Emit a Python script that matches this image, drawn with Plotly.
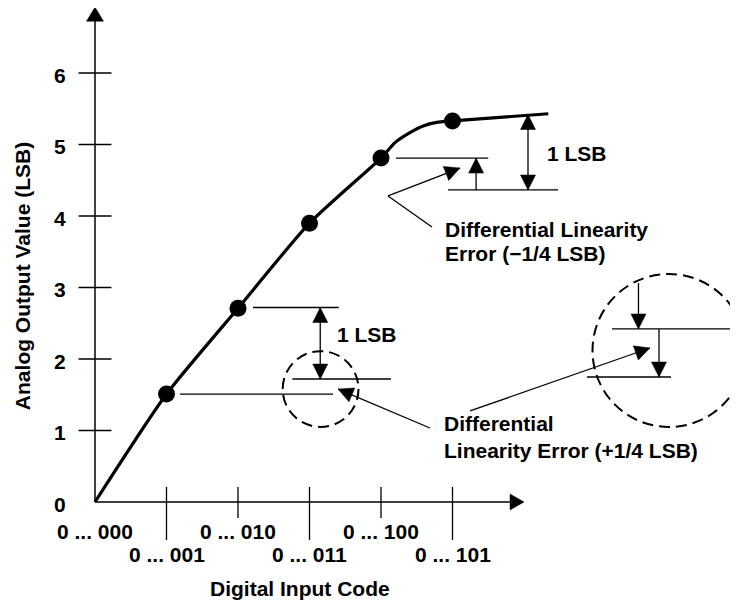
import math
import plotly.graph_objects as go

# ---------------- data ----------------
codes = [0, 1, 2, 3, 4, 5]
code_labels = ["0 ... 000", "0 ... 001", "0 ... 010", "0 ... 011", "0 ... 100", "0 ... 101"]
y_ticks = [0, 1, 2, 3, 4, 5, 6]
sample_x = [1, 2, 3, 4, 5]
sample_y = [1.51, 2.71, 3.90, 4.81, 5.33]
curve_x = [0, 1, 2, 3, 4, 4.2, 4.41, 4.59, 4.78, 5, 6.34]
curve_y = [0, 1.51, 2.71, 3.90, 4.81, 5.03, 5.17, 5.26, 5.31, 5.33, 5.43]

# ---------------- layout constants ----------------
W, H = 730, 596      # page body has an 8px margin
PX = 71.5            # pixels per unit (same on both axes)
X0, Y0 = 87, 494     # pixel of origin inside the figure
XR = [-X0 / PX, (W - X0) / PX]
YR = [(Y0 - H) / PX, Y0 / PX]

FONT = dict(family="Liberation Sans, Arial, sans-serif", size=21, color="black")
INK = "black"

shapes = []
annotations = []


def seg(x0, y0, x1, y1, w=1.3, color=INK):
    shapes.append(dict(type="line", xref="x", yref="y", x0=x0, y0=y0, x1=x1, y1=y1,
                       line=dict(color=color, width=w)))


def head(tip, frm, L=15, Wd=15):
    ux, uy = tip[0] - frm[0], tip[1] - frm[1]
    n = math.hypot(ux, uy)
    ux, uy = ux / n, uy / n
    bx, by = tip[0] - ux * L / PX, tip[1] - uy * L / PX
    px_, py_ = -uy * Wd / 2 / PX, ux * Wd / 2 / PX
    path = "M {} {} L {} {} L {} {} Z".format(tip[0], tip[1], bx + px_, by + py_, bx - px_, by - py_)
    shapes.append(dict(type="path", xref="x", yref="y", path=path,
                       fillcolor=INK, line=dict(color=INK, width=0.5)))


def arrow(frm, tip, w=1.3, both=False):
    seg(frm[0], frm[1], tip[0], tip[1], w)
    head(tip, frm)
    if both:
        head(frm, tip)


def circle(cx, cy, r):
    shapes.append(dict(type="circle", xref="x", yref="y", x0=cx - r, y0=cy - r, x1=cx + r, y1=cy + r,
                       line=dict(color=INK, width=2, dash="11px,6px")))


def text(x, y, s, xanchor="left", yanchor="middle", angle=0):
    annotations.append(dict(x=x, y=y, xref="x", yref="y", text="<b>" + s + "</b>", showarrow=False,
                            xanchor=xanchor, yanchor=yanchor, textangle=angle, font=FONT))


# ---------------- axes ----------------
seg(0, 0, 6.0 - 12 / PX, 0, 1.5)
head((6.0, 0), (0, 0), L=14, Wd=16)
seg(0, 0, 0, 6.92 - 12 / PX, 1.5)
head((0, 6.92), (0, 0), L=14, Wd=17)
for t in y_ticks[1:]:
    seg(-0.23, t, 0.23, t, 1.3)
for c in codes[1:]:
    seg(c, 0.21, c, -0.224 if c % 2 == 0 else -0.531, 1.3)

for t in y_ticks:
    text(-0.378, t - 0.03, str(t), xanchor="right")
for c, lab in zip(codes, code_labels):
    text(c, -0.406 if c % 2 == 0 else -0.741, lab, xanchor="center")
text(2.867, -1.203, "Digital Input Code", xanchor="center")
text(-1.02, 3.16, "Analog Output Value (LSB)", xanchor="center", angle=-90)

# ---------------- lower-left annotation ----------------
seg(1.19, sample_y[0], 3.33, sample_y[0])
seg(2.21, 2.72, 3.41, 2.72)
seg(2.76, 1.72, 4.14, 1.72)
arrow((3.15, 2.72), (3.15, 1.72), both=True)
text(3.357, 2.336, "1 LSB")
circle(3.155, 1.58, 0.53)
arrow((4.685, 1.035), (3.40, 1.58))
text(4.853, 1.091, "Differential")
text(4.853, 0.727, "Linearity Error (+1/4 LSB)")

# ---------------- upper-right annotation ----------------
seg(4.21, sample_y[3], 5.50, sample_y[3])
seg(4.937, 4.364, 6.476, 4.364)
arrow((5.33, 4.364), (5.33, sample_y[3]))
arrow((6.056, 5.42), (6.056, 4.364), both=True)
text(6.294, 4.881, "1 LSB")
seg(4.713, 3.846, 4.098, 4.280)
arrow((4.098, 4.280), (5.105, 4.671))
text(4.867, 3.818, "Differential Linearity")
text(4.867, 3.469, "Error (\u22121/4 LSB)")

# ---------------- magnified circle ----------------
circle(8.028, 2.119, 1.070)
arrow((7.601, 3.063), (7.601, 2.420))
seg(7.231, 2.420, 9.3, 2.420)
arrow((7.888, 2.420), (7.888, 1.748))
seg(6.881, 1.748, 8.056, 1.748)
arrow((5.245, 1.273), (7.762, 2.154))

# ---------------- figure ----------------
fig = go.Figure()
fig.add_trace(go.Scatter(x=curve_x, y=curve_y, mode="lines",
                         line=dict(color=INK, width=3.2, shape="spline", smoothing=0.6),
                         hoverinfo="skip", showlegend=False))
fig.add_trace(go.Scatter(x=sample_x, y=sample_y, mode="markers",
                         marker=dict(color=INK, size=17), hoverinfo="skip", showlegend=False))

fig.update_layout(
    width=W, height=H, margin=dict(l=0, r=0, t=0, b=0),
    paper_bgcolor="white", plot_bgcolor="white",
    xaxis=dict(range=XR, visible=False, fixedrange=True),
    yaxis=dict(range=YR, visible=False, fixedrange=True),
    shapes=shapes, annotations=annotations, showlegend=False,
)
fig.write_html("out.html")
